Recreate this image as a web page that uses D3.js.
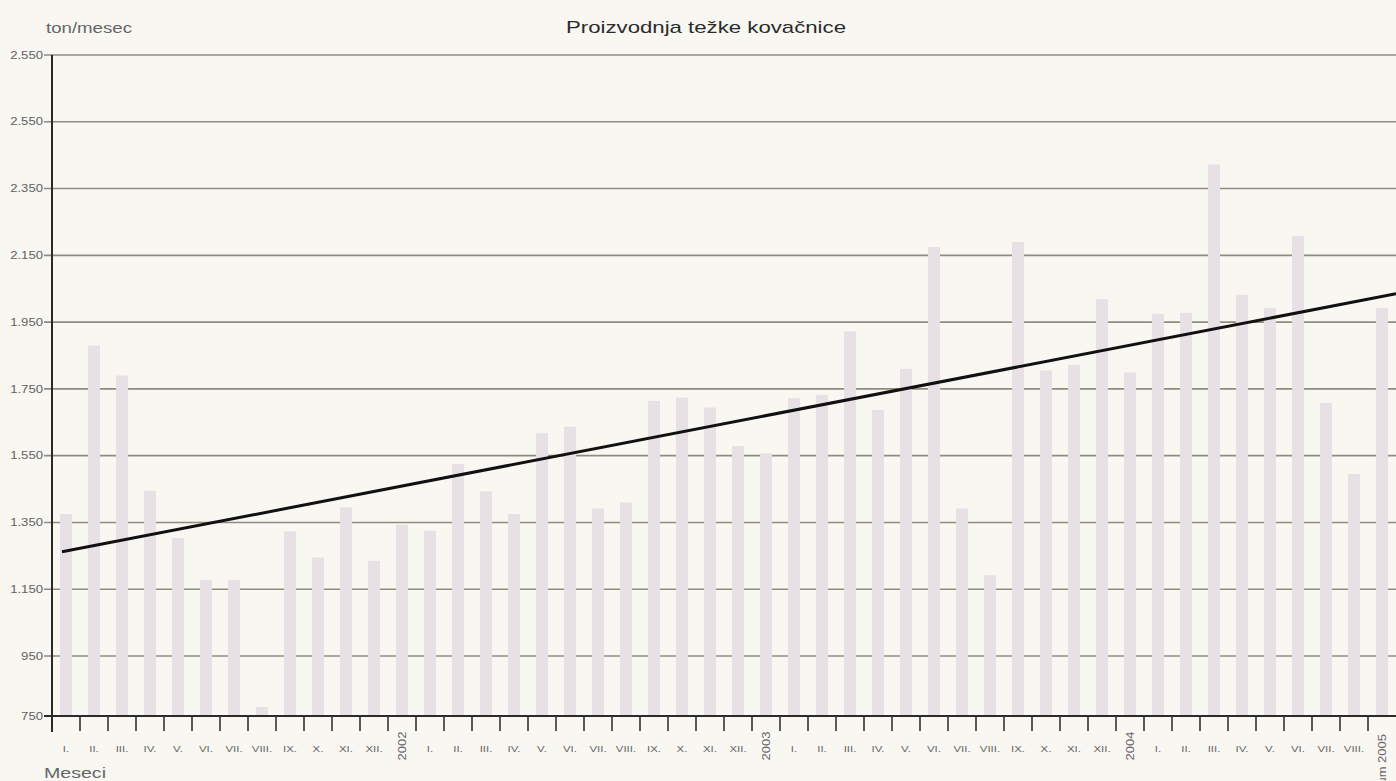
<!DOCTYPE html>
<html lang="sl">
<head>
<meta charset="utf-8">
<script src="https://d3js.org/d3.v7.min.js"></script>
<style>
  html, body { margin: 0; padding: 0; background: #f8f7f2; overflow: hidden; }
  text { font-family: "Liberation Sans", Arial, sans-serif; }
</style>
</head>
<body>
<script>
// x slots: months with a year-average slot between the years
var labels = ["I.","II.","III.","IV.","V.","VI.","VII.","VIII.","IX.","X.","XI.","XII.",
  "2002",
  "I.","II.","III.","IV.","V.","VI.","VII.","VIII.","IX.","X.","XI.","XII.",
  "2003",
  "I.","II.","III.","IV.","V.","VI.","VII.","VIII.","IX.","X.","XI.","XII.",
  "2004",
  "I.","II.","III.","IV.","V.","VI.","VII.","VIII.",
  "Optimum 2005"];
var yearSlots = ["2002", "2003", "2004", "Optimum 2005"];

// tons per month
var values = [1375,1880,1790,1445,1303,1178,1178,780,1323,1245,1395,1235,
  1343,
  1325,1525,1443,1375,1617,1637,1392,1410,1714,1724,1694,1579,
  1557,
  1722,1732,1922,1687,1810,2175,1392,1192,2190,1805,1822,2019,
  1799,
  1975,1978,2422,2032,1992,2208,1708,1495,
  1992];

// linear trend: value at first slot and at right edge
var trend = [1262, 2035];

var yTicks = [750, 950, 1150, 1350, 1550, 1750, 1950, 2150, 2350, 2550, 2750];
var yTickLabels = ["750","950","1.150","1.350","1.550","1.750","1.950","2.150","2.350","2.550","2.550"];

var width = 1396, height = 781;
var mLeft = 52, mRight = 1396, mTop = 55, mBottom = 716;

var svg = d3.select("body").append("svg")
  .attr("width", width)
  .attr("height", height);

svg.append("rect").attr("width", width).attr("height", height).attr("fill", "#f8f7f2");

var x = d3.scaleBand()
  .domain(d3.range(labels.length))
  .range([mLeft, mRight])
  .paddingInner(0.57)
  .paddingOuter(0.285);

// the scanned original has a shorter bottom interval
var y = d3.scaleLinear()
  .domain([750, 950, 2750])
  .range([mBottom, 656, mTop]);

function stretch(sel, k) {
  sel.each(function () {
    var w = this.getComputedTextLength();
    d3.select(this).attr("textLength", w * k).attr("lengthAdjust", "spacingAndGlyphs");
  });
}

// grid lines
svg.append("g").selectAll("line")
  .data(yTicks)
  .enter().append("line")
  .attr("x1", mLeft - 8)
  .attr("x2", mRight)
  .attr("y1", function (d) { return y(d); })
  .attr("y2", function (d) { return y(d); })
  .attr("stroke", function (d) { return d === 750 ? "#2a2a2a" : "#8e8b80"; })
  .attr("stroke-width", function (d) { return d === 750 ? 2 : 1.6; });

// y labels
svg.append("g").selectAll("text")
  .data(yTicks)
  .enter().append("text")
  .attr("x", mLeft - 9)
  .attr("y", function (d) { return y(d); })
  .attr("dy", "0.35em")
  .attr("text-anchor", "end")
  .attr("font-size", 10.5)
  .attr("fill", "#626262")
  .text(function (d, i) { return yTickLabels[i]; })
  .call(stretch, 1.25);

// bars
svg.append("g").selectAll("rect")
  .data(values)
  .enter().append("rect")
  .attr("x", function (d, i) { return x(i); })
  .attr("width", x.bandwidth())
  .attr("y", function (d) { return y(d); })
  .attr("height", function (d) { return mBottom - y(d); })
  .attr("fill", "#e7e0e4");

// x axis line and left axis
svg.append("line")
  .attr("x1", mLeft).attr("x2", mRight)
  .attr("y1", mBottom).attr("y2", mBottom)
  .attr("stroke", "#2a2a2a").attr("stroke-width", 2);
svg.append("line")
  .attr("x1", mLeft).attr("x2", mLeft)
  .attr("y1", mTop).attr("y2", mBottom + 16)
  .attr("stroke", "#2a2a2a").attr("stroke-width", 2);

// x ticks on slot boundaries
svg.append("g").selectAll("line")
  .data(d3.range(1, labels.length))
  .enter().append("line")
  .attr("x1", function (i) { return x(i) - x.step() * x.paddingInner() / 2; })
  .attr("x2", function (i) { return x(i) - x.step() * x.paddingInner() / 2; })
  .attr("y1", mBottom)
  .attr("y2", mBottom + 15)
  .attr("stroke", "#333")
  .attr("stroke-width", 1.6);

// month labels
svg.append("g").selectAll("text")
  .data(labels.map(function (l, i) { return {l: l, i: i}; })
    .filter(function (d) { return yearSlots.indexOf(d.l) < 0; }))
  .enter().append("text")
  .attr("x", function (d) { return x(d.i) + x.bandwidth() / 2; })
  .attr("y", 752)
  .attr("text-anchor", "middle")
  .attr("font-size", 9.5)
  .attr("fill", "#666")
  .text(function (d) { return d.l; })
  .call(stretch, 1.2);

// year labels, rotated
svg.append("g").selectAll("text")
  .data(labels.map(function (l, i) { return {l: l, i: i}; })
    .filter(function (d) { return yearSlots.indexOf(d.l) >= 0; }))
  .enter().append("text")
  .attr("transform", function (d) {
    return "translate(" + (x(d.i) + x.bandwidth() / 2) + "," + (d.l.length > 4 ? 734 : 746) + ") rotate(-90)";
  })
  .attr("dy", "0.35em")
  .attr("text-anchor", function (d) { return d.l.length > 4 ? "end" : "middle"; })
  .attr("font-size", 10)
  .attr("fill", "#666")
  .text(function (d) { return d.l; })
  .call(stretch, 1.3);

// trend line
var line = d3.line()
  .x(function (d) { return d[0]; })
  .y(function (d) { return y(d[1]); });
svg.append("path")
  .datum([[x(0) + x.bandwidth() / 2 - 4, trend[0]], [mRight, trend[1]]])
  .attr("d", line)
  .attr("fill", "none")
  .attr("stroke", "#111")
  .attr("stroke-width", 3);

// titles
svg.append("text")
  .attr("x", 706).attr("y", 33)
  .attr("text-anchor", "middle")
  .attr("font-size", 17)
  .attr("fill", "#2b2b2b")
  .attr("textLength", 280)
  .attr("lengthAdjust", "spacingAndGlyphs")
  .text("Proizvodnja težke kovačnice");

svg.append("text")
  .attr("x", 46).attr("y", 33)
  .attr("font-size", 14)
  .attr("fill", "#666")
  .attr("textLength", 86)
  .attr("lengthAdjust", "spacingAndGlyphs")
  .text("ton/mesec");

svg.append("text")
  .attr("x", 44).attr("y", 778)
  .attr("font-size", 15)
  .attr("fill", "#666")
  .attr("textLength", 62)
  .attr("lengthAdjust", "spacingAndGlyphs")
  .text("Meseci");
</script>
</body>
</html>
